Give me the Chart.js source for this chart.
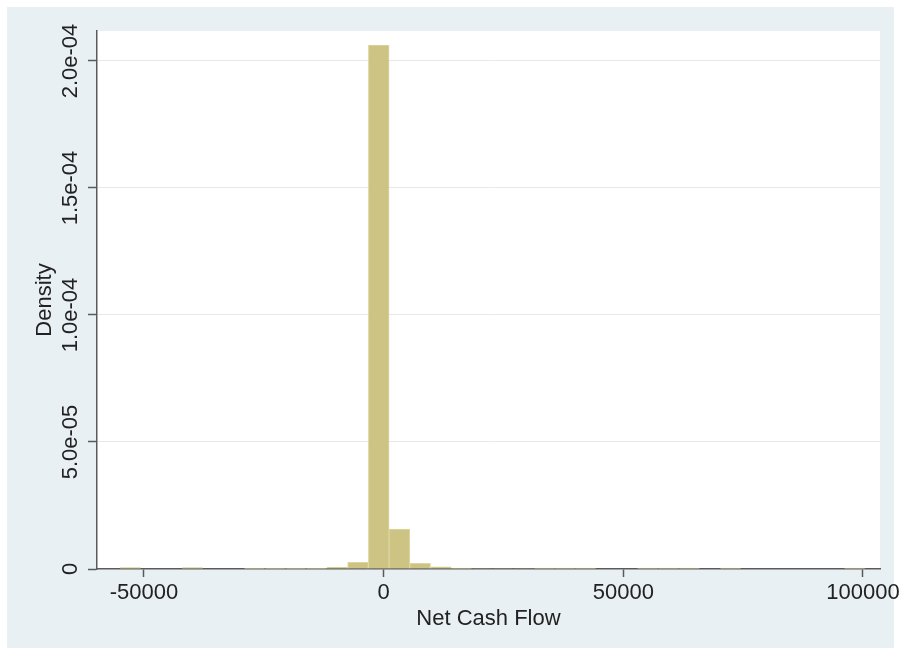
<!DOCTYPE html>
<html>
<head>
<meta charset="utf-8">
<script src="https://cdn.jsdelivr.net/npm/chart.js@4/dist/chart.umd.min.js"></script>
<style>
  html, body { margin: 0; padding: 0; background: #ffffff; }
  #wrap { width: 901px; height: 655px; }
</style>
</head>
<body>
<div id="wrap"><canvas id="hist" width="901" height="655"></canvas></div>
<script>
// Histogram of net cash flow: 36 equal-width bins
const binStart = -55000;
const binWidth = 4318;
const densities = [
  6e-7, 0, 0, 6e-7, 0, 0, 3e-7, 3e-7, 3e-7, 3e-7,
  8e-7, 2.6e-6, 2.063e-4, 1.57e-5, 2.2e-6, 9e-7, 4e-7, 2e-7, 2e-7, 2e-7,
  4e-7, 4e-7, 4e-7, 0, 0, 4e-7, 4e-7, 4e-7, 0, 4e-7,
  0, 0, 0, 0, 0, 4e-7
];
const xTicks = [-50000, 0, 50000, 100000];
const yTicks = [0, 5e-5, 1e-4, 1.5e-4, 2e-4];
const xTitle = 'Net Cash Flow';
const yTitle = 'Density';

const FONT = '"Liberation Sans", Arial, Helvetica, sans-serif';
const TEXT = '#222222';
const AXIS = '#5a5a5a';

const points = densities.map((d, i) => ({ x: binStart + (i + 0.5) * binWidth, y: d }));

function fmtDensity(v) {
  if (v === 0) return '0';
  const [m, e] = v.toExponential(1).split('e');
  const sign = e[0] === '-' ? '-' : '+';
  const digits = e.replace(/^[-+]/, '').padStart(2, '0');
  return m + 'e' + sign + digits;
}

// Backdrop: outer panel and white plot region
const backdrop = {
  id: 'backdrop',
  beforeDraw(chart) {
    const { ctx, chartArea: a } = chart;
    ctx.save();
    ctx.fillStyle = '#ffffff';
    ctx.fillRect(0, 0, chart.width, chart.height);
    ctx.fillStyle = '#e9f0f3';
    ctx.fillRect(7, 7, 887, 641);
    ctx.fillStyle = '#ffffff';
    ctx.fillRect(a.left, a.top, a.right - a.left, a.bottom - a.top);
    ctx.restore();
  }
};

// Vertical tick labels on the density axis
const yLabels = {
  id: 'yLabels',
  afterDraw(chart) {
    const s = chart.scales.y;
    const { ctx } = chart;
    ctx.save();
    ctx.font = '22px ' + FONT;
    ctx.fillStyle = TEXT;
    ctx.textAlign = 'center';
    ctx.textBaseline = 'middle';
    s.ticks.forEach(t => {
      const y = s.getPixelForValue(t.value);
      ctx.save();
      ctx.translate(71, y);
      ctx.rotate(-Math.PI / 2);
      ctx.fillText(fmtDensity(t.value), 0, 0);
      ctx.restore();
    });
    ctx.restore();
  }
};

new Chart(document.getElementById('hist'), {
  type: 'bar',
  data: {
    datasets: [{
      data: points,
      backgroundColor: '#cdc382',
      borderColor: '#ddd6a4',
      borderWidth: 1,
      borderSkipped: 'bottom',
      barPercentage: 1,
      categoryPercentage: 1,
      grouped: false
    }]
  },
  options: {
    responsive: false,
    animation: false,
    layout: { padding: { top: 31, right: 21, bottom: 0, left: 0 } },
    plugins: { legend: { display: false }, tooltip: { enabled: false } },
    scales: {
      x: {
        type: 'linear',
        offset: false,
        min: -59800,
        max: 103550,
        afterBuildTicks: s => { s.ticks = xTicks.map(v => ({ value: v })); },
        afterFit: s => { s.height = 86; s.paddingLeft = 0; s.paddingRight = 0; },
        grid: { offset: false, drawOnChartArea: false, tickLength: 8, tickColor: AXIS, tickWidth: 1.5 },
        border: { display: true, color: AXIS, width: 1.5 },
        ticks: {
          color: TEXT, font: { family: FONT, size: 22 }, padding: 3,
          maxRotation: 0, autoSkip: false,
          callback: v => String(v)
        },
        title: {
          display: true, text: xTitle, color: TEXT,
          font: { family: FONT, size: 22 }, padding: { top: 0, bottom: 23 }
        }
      },
      y: {
        type: 'linear',
        min: 0,
        max: 2.118e-4,
        afterBuildTicks: s => { s.ticks = yTicks.map(v => ({ value: v })); },
        afterFit: s => { s.width = 97; s.paddingTop = 0; s.paddingBottom = 0; },
        grid: {
          color: ctx => (ctx.tick && ctx.tick.value === 0 ? 'rgba(0,0,0,0)' : '#e8e8e8'),
          lineWidth: 1, tickLength: 9, tickColor: AXIS, tickWidth: 1.5
        },
        border: { display: true, color: AXIS, width: 1.5 },
        ticks: { display: false, callback: v => fmtDensity(v) },
        title: {
          display: true, text: yTitle, color: TEXT,
          font: { family: FONT, size: 22 }, padding: { top: 32, bottom: 0 }
        }
      }
    }
  },
  plugins: [backdrop, yLabels]
});
</script>
</body>
</html>
